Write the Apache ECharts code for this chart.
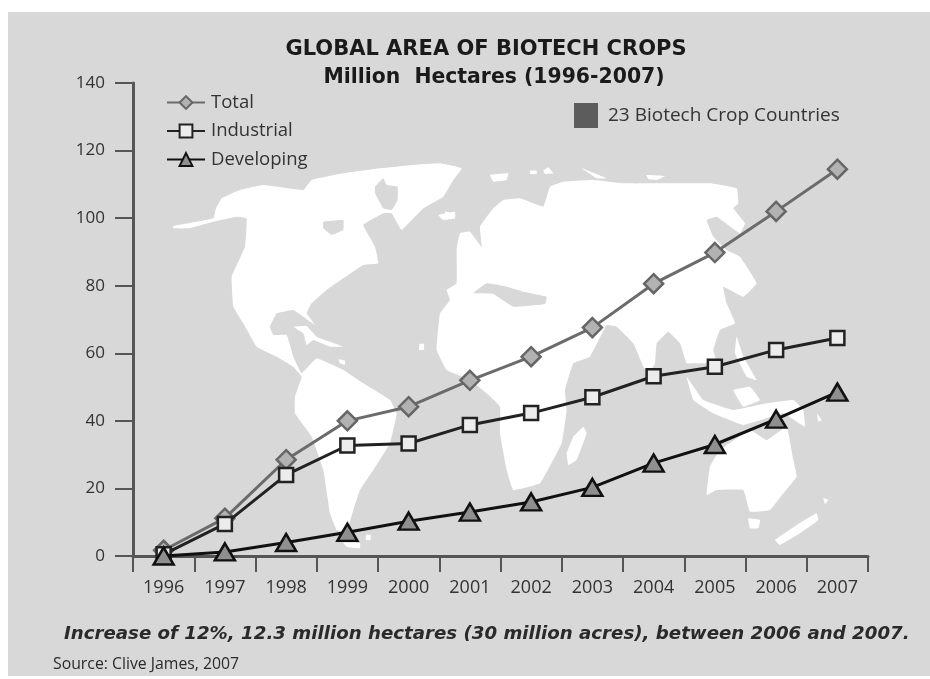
<!DOCTYPE html>
<html>
<head>
<meta charset="utf-8">
<title>Global area of biotech crops</title>
<style>
html, body { margin: 0; padding: 0; background: #fff; }
#chart { width: 930px; height: 679px; }
</style>
<script src="https://cdn.jsdelivr.net/npm/echarts@6/dist/echarts.min.js"></script>
</head>
<body>
<div id="chart"></div>
<script>
var years = ['1996', '1997', '1998', '1999', '2000', '2001', '2002', '2003', '2004', '2005', '2006', '2007'];
var total = [1.7, 11.2, 28.5, 40, 44.2, 52, 59, 67.6, 80.6, 89.8, 102, 114.5];
var industrial = [0.5, 9.5, 24, 32.7, 33.3, 38.8, 42.3, 47, 53.2, 56, 61, 64.5];
var developing = [0, 1.2, 4, 7, 10.3, 13, 16, 20.3, 27.5, 33, 40.5, 48.5];

var FONT = 'Open Sans';
var WIDE = 'DejaVu Sans';
var BG = '#d8d8d8';

// background map, traced by hand (decoration only, not data)
// west part: x = 130 + px/3, y = 150 + py/3
var mapWest = [
	[[130,228],[175,220],[250,205],[258,175],[275,145],[330,120],[400,105],[520,120],[545,90],[640,70],[750,55],[850,45],[930,40],[995,55],[970,90],[940,140],[880,175],[815,240],[785,190],[760,190],[700,225],[735,290],[745,340],[700,345],[640,385],[590,420],[545,460],[530,490],[555,525],[520,500],[490,480],[440,490],[420,530],[430,555],[470,555],[490,620],[515,670],[560,625],[640,660],[700,700],[780,750],[800,790],[780,880],[730,960],[690,1020],[670,1080],[650,1145],[620,1140],[600,1090],[580,960],[545,860],[495,790],[495,740],[515,680],[490,650],[440,620],[380,590],[340,520],[310,470],[305,380],[345,290],[350,205],[320,200],[250,215],[175,235],[130,235]],
	[[490,530],[530,528],[560,560],[600,575],[640,590],[600,590],[550,570],[530,585],[520,550]],
	[[925,195],[975,185],[975,205],[940,210]],
	[[640,1178],[690,1180],[690,1195],[650,1190]],
	[[708,1155],[722,1155],[722,1170],[708,1170]],
	[[868,582],[882,582],[882,600],[868,600]],
	[[625,628],[645,632],[645,645],[630,640]]
];
var holesWest = [
	[[580,215],[640,210],[640,240],[605,255],[580,235]],
	[[735,110],[760,85],[770,105],[803,110],[803,150],[785,180],[760,175],[735,130]]
];
// east part: x = 450 + px/3, y = 150 + py/3
var mapEast = [
	[[-30,490],[0,450],[-10,420],[20,400],[20,295],[30,250],[60,245],[95,290],[90,230],[130,175],[160,150],[210,145],[280,170],[300,110],[340,95],[430,90],[520,100],[640,100],[780,100],[860,115],[865,160],[850,175],[885,220],[870,250],[800,200],[770,210],[790,260],[830,300],[870,320],[920,400],[880,440],[820,410],[830,460],[855,520],[810,540],[790,600],[800,640],[770,640],[730,640],[710,640],[690,580],[655,545],[620,580],[615,640],[595,670],[580,650],[550,580],[500,530],[470,525],[420,620],[370,640],[345,720],[350,780],[335,880],[270,1000],[190,1020],[170,960],[150,850],[150,770],[110,730],[60,690],[-10,660],[-40,600]],
	[[400,830],[410,850],[380,930],[355,945],[350,910],[370,860]],
	[[710,680],[760,750],[850,780],[950,760],[1030,750],[1060,780],[1065,830],[1040,815],[1000,790],[880,825],[790,790],[730,750]],
	[[850,720],[900,710],[930,750],[880,770]],
	[[860,560],[880,620],[920,690],[890,680],[855,610]],
	[[780,950],[810,900],[900,840],[950,870],[1010,830],[1030,930],[1040,980],[1000,1030],[960,1080],[900,1085],[880,1020],[800,1020],[770,1035]],
	[[895,1105],[930,1110],[925,1135],[900,1135]],
	[[975,1170],[1040,1125],[1100,1090],[1105,1110],[1050,1150],[990,1185]],
	[[120,75],[175,70],[170,90],[130,95]],
	[[240,62],[260,62],[260,72],[240,72]],
	[[280,62],[295,52],[310,70],[285,72]],
	[[395,55],[470,85],[440,85]],
	[[590,75],[645,78],[620,90],[595,88]],
	[[1100,790],[1115,810],[1105,815]],
	[[1120,1045],[1135,1050],[1125,1062]],
	[[-15,185],[15,190],[10,205],[-10,205]]
];
var holesEast = [
	[[70,430],[110,400],[170,410],[220,425],[290,440],[285,462],[190,470],[130,432]]
];

function mapGraphics() {
	var out = [];
	function add(list, x0, fill) {
		list.forEach(function(pts) {
			out.push({
				type: 'polygon',
				z: -5,
				silent: true,
				shape: {
					smooth: 0.08,
					points: pts.map(function(p) { return [x0 + p[0] / 3, 150 + p[1] / 3]; })
				},
				style: { fill: fill }
			});
		});
	}
	add(mapWest, 130, '#fff');
	add(mapEast, 450, '#fff');
	add(holesWest, 130, BG);
	add(holesEast, 450, BG);
	return out;
}

var chart = echarts.init(document.getElementById('chart'));
chart.setOption({
	animation: false,
	backgroundColor: '#fff',
	textStyle: { fontFamily: FONT },
	title: [
		{ text: 'GLOBAL AREA OF BIOTECH CROPS', left: 481, top: 34, textAlign: 'center',
		  textStyle: { fontFamily: WIDE, fontSize: 21, fontWeight: 'bold', color: '#1a1a1a' } },
		{ text: 'Million  Hectares (1996-2007)', left: 489, top: 63, textAlign: 'center',
		  textStyle: { fontFamily: WIDE, fontSize: 20.4, fontWeight: 'bold', color: '#1a1a1a' } },
		{ text: 'Increase of 12%, 12.3 million hectares (30 million acres), between 2006 and 2007.', left: 59, top: 620,
		  textStyle: { fontFamily: WIDE, fontSize: 18.2, fontWeight: 'bold', fontStyle: 'italic', color: '#2a2a2a' } },
		{ text: 'Source: Clive James, 2007', left: 48, top: 651,
		  textStyle: { fontFamily: FONT, fontSize: 15.8, fontWeight: 'normal', color: '#2a2a2a' } },
		{ text: '23 Biotech Crop Countries', left: 603, top: 101,
		  textStyle: { fontFamily: FONT, fontSize: 19, fontWeight: 'normal', color: '#333' } }
	],
	legend: {
		orient: 'vertical',
		left: 161,
		top: 88,
		itemWidth: 38,
		itemHeight: 16,
		itemGap: 9.5,
		data: ['Total', 'Industrial', 'Developing'],
		textStyle: { fontFamily: FONT, fontSize: 18.5, color: '#333', padding: [0, 0, 0, 1] }
	},
	grid: { left: 133, right: 62, top: 83, bottom: 123 },
	xAxis: {
		type: 'category',
		data: years,
		boundaryGap: true,
		axisLine: { lineStyle: { color: '#555', width: 3 } },
		axisTick: { show: true, length: 16, lineStyle: { color: '#555', width: 2 } },
		axisLabel: { fontFamily: FONT, fontSize: 18, color: '#333', margin: 23 },
		splitLine: { show: false }
	},
	yAxis: {
		type: 'value',
		min: 0,
		max: 140,
		interval: 20,
		axisLine: { show: true, lineStyle: { color: '#555', width: 3 } },
		axisTick: { show: true, length: 18, lineStyle: { color: '#555', width: 2 } },
		axisLabel: { fontFamily: FONT, fontSize: 17, color: '#333', margin: 28 },
		splitLine: { show: false }
	},
	graphic: [
		{ type: 'rect', z: -10, silent: true, shape: { x: 8, y: 12, width: 922, height: 664 }, style: { fill: BG } },
		{ type: 'rect', z: -1, silent: true, shape: { x: 574, y: 103, width: 24, height: 25 }, style: { fill: '#5c5c5c' } }
	].concat(mapGraphics()),
	series: [
		{
			name: 'Total', type: 'line', data: total, z: 2,
			symbol: 'diamond', symbolSize: 19,
			lineStyle: { color: '#6b6b6b', width: 3 },
			itemStyle: { color: '#b2b2b2', borderColor: '#666', borderWidth: 2.5, opacity: 1 }
		},
		{
			name: 'Industrial', type: 'line', data: industrial, z: 3,
			symbol: 'rect', symbolSize: 14,
			lineStyle: { color: '#222', width: 3 },
			itemStyle: { color: '#ececec', borderColor: '#222', borderWidth: 2.5, opacity: 1 }
		},
		{
			name: 'Developing', type: 'line', data: developing, z: 4,
			symbol: 'triangle', symbolSize: [20, 17],
			lineStyle: { color: '#111', width: 3 },
			itemStyle: { color: '#8f8f8f', borderColor: '#111', borderWidth: 2.5, opacity: 1 }
		}
	]
});
</script>
</body>
</html>
